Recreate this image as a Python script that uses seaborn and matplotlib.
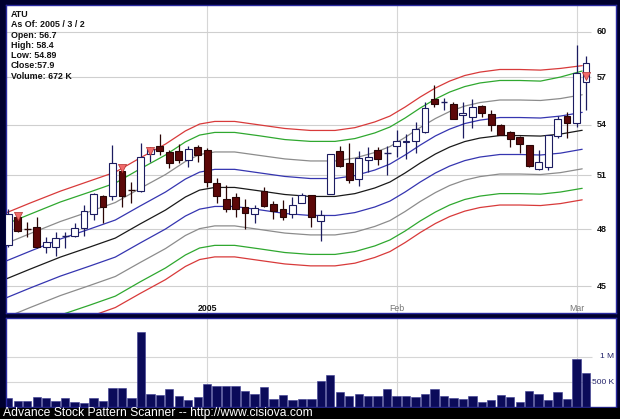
import matplotlib
matplotlib.use("Agg")
import matplotlib.pyplot as plt
import matplotlib.transforms as mtransforms
from matplotlib.patches import Rectangle
import numpy as np
import seaborn as sns

# header block
header = ["ATU", "As Of: 2005 / 3 / 2", "Open: 56.7", "High: 58.4",
          "Low: 54.89", "Close:57.9", "Volume: 672 K"]
footer = "Advance Stock Pattern Scanner -- http://www.cisiova.com"

# daily candles, 2004-12 .. 2005-03-02
opens = [47.14, 48.64, 48.04, 48.13, 47.05, 47.05, 47.57, 47.64, 48.06, 48.80,
         49.82, 49.85, 51.27, 50.20, 50.08, 52.25, 52.70, 52.38, 52.42, 51.89,
         52.68, 52.48, 50.58, 49.64, 49.75, 49.20, 48.82, 50.13, 49.37, 49.08,
         48.82, 49.45, 49.87, 48.44, 49.95, 52.43, 51.73, 50.79, 51.89, 52.48,
         52.29, 52.70, 52.96, 53.00, 53.57, 55.58, 55.40, 55.29, 54.58, 54.48,
         55.17, 54.66, 54.00, 53.54, 53.26, 52.78, 51.35, 51.50, 53.35, 54.55,
         54.10, 56.70]
highs = [49.08, 48.86, 48.40, 48.67, 47.57, 47.82, 47.82, 48.33, 49.30, 50.00,
         49.87, 52.78, 51.35, 50.62, 52.92, 52.68, 53.42, 52.48, 52.84, 52.70,
         52.78, 52.60, 50.86, 50.44, 50.00, 49.64, 49.31, 50.36, 49.53, 49.60,
         49.75, 50.00, 49.87, 49.04, 52.26, 52.70, 52.92, 52.40, 52.64, 52.68,
         52.70, 53.69, 53.42, 54.20, 55.40, 56.46, 55.64, 55.43, 55.43, 55.58,
         55.23, 54.91, 54.06, 53.64, 53.33, 52.78, 52.48, 53.39, 54.55, 54.81,
         59.10, 58.40]
lows = [47.05, 47.84, 47.59, 47.00, 46.70, 46.58, 46.97, 47.57, 47.64, 48.49,
        48.34, 49.60, 49.23, 49.41, 50.06, 51.79, 52.20, 51.40, 51.70, 51.50,
        51.79, 50.33, 49.41, 48.95, 48.64, 47.98, 48.31, 49.20, 48.53, 48.49,
        48.58, 49.43, 48.13, 47.33, 49.95, 51.50, 50.55, 50.40, 51.20, 51.60,
        51.05, 52.09, 51.93, 52.29, 53.50, 55.12, 54.91, 54.37, 53.20, 53.80,
        54.50, 53.60, 53.39, 52.64, 52.33, 51.50, 51.32, 51.31, 53.20, 53.20,
        53.90, 54.89]
closes = [48.80, 47.91, 48.02, 47.01, 47.29, 47.52, 47.60, 48.06, 48.98, 49.93,
          49.21, 51.70, 49.85, 50.15, 52.09, 52.52, 52.42, 51.73, 51.89, 52.52,
          52.20, 50.60, 49.84, 49.08, 49.08, 48.90, 49.13, 49.25, 49.00, 48.67,
          49.31, 49.87, 48.64, 48.77, 52.26, 51.56, 50.73, 52.00, 52.06, 51.93,
          52.32, 53.02, 53.05, 53.73, 55.03, 55.29, 55.42, 54.37, 54.73, 55.12,
          54.76, 54.00, 53.39, 53.14, 52.86, 51.56, 51.75, 53.39, 54.35, 54.10,
          57.26, 57.90]
volume_k = [187, 113, 113, 200, 173, 127, 173, 100, 80, 173,
            120, 387, 387, 173, 1500, 267, 240, 360, 220, 140,
            200, 460, 420, 420, 420, 320, 253, 407, 167, 240,
            140, 160, 167, 520, 633, 293, 220, 253, 220, 220,
            353, 220, 220, 207, 260, 360, 213, 180, 167, 220,
            93, 140, 240, 200, 100, 320, 253, 140, 293, 160,
            967, 672]

month_pos = [21, 41, 60]
month_labels = ["2005", "Feb", "Mar"]
price_ticks = [45, 48, 51, 54, 57, 60]
vol_ticks = [500, 1000]
vol_labels = ["500 K", "1 M"]

signal_bars = [1, 12, 15, 61]
signal_prices = [48.70, 51.42, 52.45, 57.10]

# envelope lines, read at sample bars
band_x = [-0.25, 2.3, 5.5, 8.6, 11.3, 13.9, 16.6, 18.7, 20.2, 21.8,
          23.9, 26.6, 29.2, 31.9, 34.5, 36.6, 38.7, 40.3, 41.9, 43.5,
          45.1, 46.6, 48.2, 49.8, 51.9, 54.0, 56.2, 58.3, 60.6]
red_hi = [48.88, 49.43, 50.10, 50.68, 51.19, 52.01, 52.84, 53.63, 54.05, 54.21,
          54.21, 53.99, 53.78, 53.66, 53.66, 53.83, 54.18, 54.54, 55.10, 55.73,
          56.30, 56.74, 57.10, 57.32, 57.49, 57.49, 57.45, 57.56, 57.74]
green_hi = [48.27, 48.81, 49.49, 50.05, 50.56, 51.37, 52.19, 52.97, 53.38, 53.54,
            53.54, 53.33, 53.11, 53.00, 53.00, 53.17, 53.51, 53.87, 54.42, 55.04,
            55.60, 56.04, 56.39, 56.62, 56.78, 56.78, 56.74, 57.00, 57.39]
gray_hi = [47.22, 47.75, 48.41, 48.96, 49.46, 50.25, 51.05, 51.81, 52.22, 52.37,
           52.37, 52.16, 51.96, 51.84, 51.84, 52.01, 52.34, 52.69, 53.24, 53.84,
           54.39, 54.82, 55.16, 55.38, 55.54, 55.54, 55.51, 55.63, 55.87]
blue_hi = [46.29, 46.81, 47.46, 48.00, 48.49, 49.26, 50.05, 50.79, 51.19, 51.35,
           51.35, 51.14, 50.94, 50.82, 50.82, 50.99, 51.31, 51.66, 52.19, 52.78,
           53.33, 53.74, 54.08, 54.29, 54.45, 54.45, 54.42, 54.54, 54.77]
mid = [45.36, 45.87, 46.50, 47.03, 47.51, 48.27, 49.04, 49.77, 50.16, 50.31,
       50.31, 50.11, 49.91, 49.80, 49.80, 49.96, 50.28, 50.62, 51.14, 51.72,
       52.25, 52.66, 52.99, 53.20, 53.35, 53.35, 53.32, 53.44, 53.67]
blue_lo = [44.40, 44.90, 45.51, 46.03, 46.50, 47.24, 48.00, 48.71, 49.09, 49.24,
           49.24, 49.05, 48.85, 48.74, 48.74, 48.90, 49.21, 49.54, 50.05, 50.62,
           51.14, 51.54, 51.86, 52.07, 52.22, 52.22, 52.19, 52.30, 52.53]
gray_lo = [43.43, 43.92, 44.52, 45.03, 45.49, 46.21, 46.95, 47.65, 48.02, 48.17,
           48.17, 47.97, 47.78, 47.68, 47.68, 47.83, 48.14, 48.46, 48.96, 49.52,
           50.02, 50.42, 50.73, 50.93, 51.08, 51.08, 51.05, 51.16, 51.38]
green_lo = [42.48, 42.96, 43.55, 44.04, 44.49, 45.21, 45.93, 46.61, 46.98, 47.12,
            47.12, 46.93, 46.74, 46.64, 46.64, 46.79, 47.09, 47.41, 47.89, 48.44,
            48.93, 49.32, 49.63, 49.82, 49.96, 49.96, 49.93, 50.05, 50.26]
red_lo = [41.93, 42.40, 42.98, 43.47, 43.92, 44.62, 45.33, 46.01, 46.37, 46.51,
          46.51, 46.32, 46.14, 46.04, 46.04, 46.18, 46.48, 46.79, 47.27, 47.81,
          48.30, 48.68, 48.98, 49.18, 49.32, 49.32, 49.29, 49.40, 49.61]

bands = [red_hi, green_hi, gray_hi, blue_hi, mid, blue_lo, gray_lo, green_lo, red_lo]
band_colors = ["#d83a3a", "#2fa82f", "#8c8c8c", "#3535b0", "#1a1a1a",
               "#3535b0", "#8c8c8c", "#2fa82f", "#d83a3a"]

W, H = 620, 419
sns.set_style("white")
plt.rcParams["font.family"] = ["Liberation Sans", "DejaVu Sans"]

fig = plt.figure(figsize=(W / 100, H / 100), dpi=100, facecolor="#00002e")
fig.patches.append(Rectangle((0, 0), 1, 11.5 / H, transform=fig.transFigure,
                             color="black", zorder=0))

ax = fig.add_axes([6 / W, 1 - 313 / H, 610 / W, 308 / H])
axv = fig.add_axes([6 / W, 1 - 407 / H, 610 / W, 89 / H])

xmin, xmax = -0.243, 64.17
grid_end = 61.53
for a in (ax, axv):
    a.set_facecolor("white")
    a.set_xlim(xmin, xmax)
    a.set_xticks([])
    a.set_yticks([])
    for s in a.spines.values():
        s.set_color("#2a2aa0")
        s.set_linewidth(1.0)
    for m in month_pos:
        a.axvline(m, color="#d6d6d6", lw=0.8, zorder=0)

# price panel
ax.set_yscale("log")
ax.minorticks_off()
ax.set_yticks([])
ax.hlines(price_ticks, xmin, grid_end, color="#cfcfcf", lw=0.8, zorder=0)
for p in price_ticks:
    ax.text(62.16, p, str(p), ha="left", va="center", fontsize=6.5,
            fontweight="bold", color="#111111")

tr = mtransforms.blended_transform_factory(ax.transData, ax.transAxes)
for m, lab in zip(month_pos, month_labels):
    ax.text(m, 0.014, lab, transform=tr, ha="center", va="center", fontsize=6.3,
            fontweight="bold" if lab == "2005" else "normal",
            color="#111111" if lab == "2005" else "#777777")

for vals, c in zip(bands, band_colors):
    sns.lineplot(x=band_x, y=vals, color=c, lw=0.9, ax=ax, zorder=1)

x = np.arange(len(opens))
for i in x:
    o, h, l, c = opens[i], highs[i], lows[i], closes[i]
    up = c >= o
    wick = "#1c1c60" if up else "#2a0505"
    ax.vlines(i, l, h, color=wick, lw=0.9, zorder=2)
    lo, hi = min(o, c), max(o, c)
    if hi - lo < 0.06:
        ax.hlines(c, i - 0.36, i + 0.36, color=wick, lw=1.0, zorder=3)
    else:
        ax.bar(i, hi - lo, bottom=lo, width=0.72,
               color="white" if up else "#5c0808",
               edgecolor="#1c1c60" if up else "#2a0505", lw=0.8, zorder=3)

ax.scatter(signal_bars, signal_prices, marker="v", s=34, color="#f06a6a",
           edgecolor="#b03030", lw=0.5, zorder=4)
ax.set_xlim(xmin, xmax)
ax.set_ylim(43.65, 61.84)

for k, line in enumerate(header):
    fig.text(11 / W, 1 - (14.5 + 10.3 * k) / H, line, fontsize=6.4,
             fontweight="bold", color="#111111", va="center", ha="left")

# volume panel
axv.set_ylim(0, 1780)
axv.hlines(vol_ticks, xmin, 61.64, color="#d6d6d6", lw=0.8, zorder=0)
axv.bar(x, volume_k, width=0.88, color="#0b0b5a", edgecolor="#3a3a90",
        lw=0.4, zorder=2)
for v, lab in zip(vol_ticks, vol_labels):
    axv.text(63.96, v, lab, ha="right", va="center", fontsize=6,
             color="#22226a")
axv.set_xlim(xmin, xmax)

fig.text(3 / W, 1 - 413 / H, footer, fontsize=8.7, color="white",
         ha="left", va="center")

fig.savefig("out.png", dpi=100, facecolor=fig.get_facecolor())
